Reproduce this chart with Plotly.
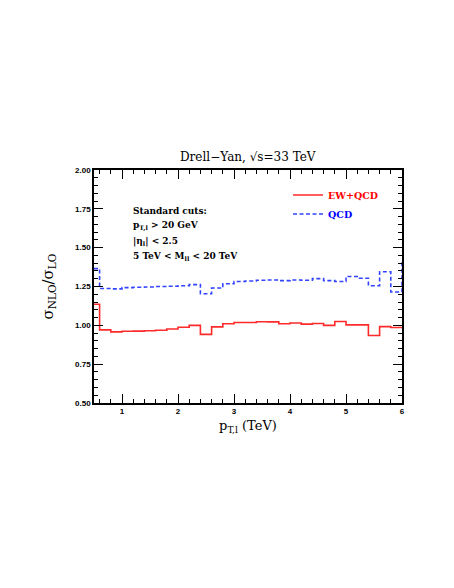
import plotly.graph_objects as go

# bin edges (TeV)
edges = [0.5, 0.6, 0.8, 1.0, 1.2, 1.4, 1.6, 1.8, 2.0, 2.2, 2.4, 2.6, 2.8, 3.0,
         3.2, 3.4, 3.6, 3.8, 4.0, 4.2, 4.4, 4.6, 4.8, 5.0, 5.2, 5.4, 5.6, 5.8, 6.0]
blue_extra_edge = 6.2

ew_qcd = [1.136, 0.971, 0.958, 0.962, 0.963, 0.965, 0.968, 0.976, 0.988, 1.0,
          0.942, 0.99, 1.01, 1.018, 1.018, 1.023, 1.022, 1.01, 1.015, 1.008,
          1.012, 1.0, 1.025, 1.003, 1.003, 0.935, 0.992, 0.986]
qcd = [1.365, 1.237, 1.235, 1.243, 1.245, 1.247, 1.25, 1.252, 1.255, 1.262,
       1.203, 1.24, 1.268, 1.282, 1.285, 1.29, 1.292, 1.288, 1.292, 1.29,
       1.301, 1.288, 1.282, 1.314, 1.303, 1.255, 1.345, 1.215]
qcd_beyond = 1.42

x_red = edges
y_red = ew_qcd + [ew_qcd[-1]]
x_blue = edges + [blue_extra_edge]
y_blue = qcd + [qcd_beyond, qcd_beyond]

serif = "DejaVu Serif"

fig = go.Figure()
fig.add_trace(go.Scatter(
    x=x_red, y=y_red, mode="lines", line_shape="hv",
    line=dict(color="#ff2a2a", width=1.6),
    name="<span style='color:#ff0000'><b>EW+QCD</b></span>"))
fig.add_trace(go.Scatter(
    x=x_blue, y=y_blue, mode="lines", line_shape="hv",
    line=dict(color="#3344ff", width=1.6, dash="4px,2.5px"),
    name="<span style='color:#0000ff'><b>QCD</b></span>"))

axis_common = dict(
    showgrid=False, zeroline=False, showline=True, linecolor="black",
    linewidth=1.5, mirror="allticks", ticks="inside", tickcolor="black",
    tickwidth=1.2, ticklen=9,
    tickfont=dict(family="Liberation Sans", size=8, color="black", weight="bold"),
)

fig.update_xaxes(
    range=[0.5, 6.0], tickvals=[1, 2, 3, 4, 5, 6], ticktext=["1", "2", "3", "4", "5", "6"],
    minor=dict(dtick=0.2, tick0=0, ticks="inside", ticklen=4.5, tickcolor="black", tickwidth=1),
    title=dict(text="p<sub>T,l</sub> (TeV)", font=dict(family=serif, size=13, color="black"),
               standoff=6),
    **axis_common)
fig.update_yaxes(
    range=[0.5, 2.0], tickvals=[0.5, 0.75, 1.0, 1.25, 1.5, 1.75, 2.0],
    ticktext=["0.50", "0.75", "1.00", "1.25", "1.50", "1.75", "2.00"],
    minor=dict(dtick=0.05, tick0=0, ticks="inside", ticklen=4.5, tickcolor="black", tickwidth=1),
    title=dict(text="σ<sub>NLO</sub>/σ<sub>LO</sub>", font=dict(family=serif, size=15, color="black"),
               standoff=18),
    **axis_common)

fig.add_annotation(
    xref="paper", yref="paper", x=0.5, y=1.0, yshift=13, showarrow=False,
    text="Drell−Yan, √s=33 TeV", font=dict(family=serif, size=12, color="black"),
    xanchor="center", yanchor="middle")

cuts = ["Standard cuts:", "p<sub>T,l</sub> &gt; 20 GeV", "|η<sub>l</sub>| &lt; 2.5",
        "5 TeV &lt; M<sub>ll</sub> &lt; 20 TeV"]
for i, t in enumerate(cuts):
    fig.add_annotation(
        xref="paper", yref="paper", x=(130.5 - 94) / 308, y=(403 - (211 + 15 * i)) / 233,
        showarrow=False, text="<b>" + t + "</b>", xanchor="left", yanchor="middle",
        font=dict(family=serif, size=9, color="black"))

fig.update_layout(
    width=454, height=588,
    margin=dict(l=86, r=60, t=162, b=193),
    paper_bgcolor="white", plot_bgcolor="white",
    showlegend=True,
    legend=dict(x=0.63, y=0.955, xanchor="left", yanchor="top",
                bgcolor="rgba(0,0,0,0)", borderwidth=0, itemwidth=30,
                tracegroupgap=0, font=dict(family=serif, size=9.5),
                itemclick=False),
)

fig.write_html("out.html")
